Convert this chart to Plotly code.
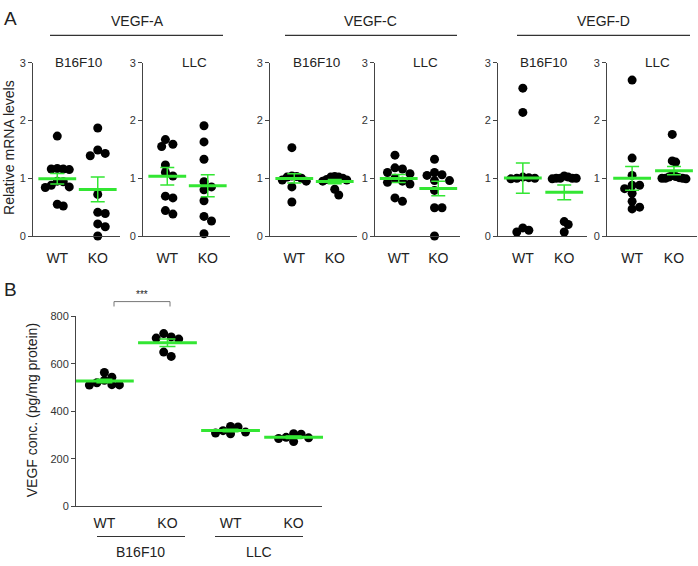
import numpy as np
import plotly.graph_objects as go

W, H = 698, 566
GREEN = '#33e633'
AXC = '#444444'
FONT = 'Arial, Liberation Sans, sans-serif'

# ---- panel A: relative mRNA levels (WT / KO) ----
genes = ['VEGF-A', 'VEGF-C', 'VEGF-D']
cells = ['B16F10', 'LLC']
groups = ['WT', 'KO']

vegfa_b16_wt = [1.73, 1.16, 1.16, 1.15, 1.17, 0.95, 0.94, 0.85, 0.84, 0.88, 0.55, 0.52]
vegfa_b16_ko = [1.87, 1.49, 1.43, 1.39, 0.72, 0.39, 0.41, 0.21, 0.16, 0.0]
vegfa_llc_wt = [1.59, 1.55, 1.67, 1.23, 1.10, 1.04, 0.69, 0.66, 0.38, 0.44]
vegfa_llc_ko = [1.91, 1.63, 1.33, 0.85, 0.94, 0.80, 0.61, 0.34, 0.26, 0.04]
vegfc_b16_wt = [1.53, 1.04, 1.02, 1.03, 0.97, 0.95, 0.85, 0.59, 1.0]
vegfc_b16_ko = [1.02, 1.03, 1.02, 1.0, 0.98, 0.97, 0.95, 0.81, 0.71]
vegfc_llc_wt = [1.40, 1.16, 1.18, 1.08, 1.10, 1.0, 0.95, 0.93, 0.90, 0.60, 0.66]
vegfc_llc_ko = [1.33, 1.06, 1.05, 1.10, 0.96, 0.96, 0.79, 0.49, 0.49, 0.0]
vegfd_b16_wt = [2.56, 2.14, 1.02, 1.0, 1.0, 0.99, 1.01, 0.14, 0.07, 0.10]
vegfd_b16_ko = [1.04, 1.02, 1.0, 1.0, 1.0, 0.99, 1.0, 0.25, 0.20, 0.07]
vegfd_llc_wt = [2.70, 1.35, 1.05, 0.88, 0.88, 0.82, 0.74, 0.60, 0.47, 0.50]
vegfd_llc_ko = [1.76, 1.30, 1.28, 1.05, 1.02, 1.0, 1.0, 0.99, 1.0, 1.01, 1.03]

panel_a = [
    (vegfa_b16_wt, vegfa_b16_ko), (vegfa_llc_wt, vegfa_llc_ko),
    (vegfc_b16_wt, vegfc_b16_ko), (vegfc_llc_wt, vegfc_llc_ko),
    (vegfd_b16_wt, vegfd_b16_ko), (vegfd_llc_wt, vegfd_llc_ko),
]
a_ticks = [0, 1, 2, 3]

# ---- panel B: VEGF protein (pg/mg protein) ----
b_labels = ['WT', 'KO', 'WT', 'KO']
b16_wt = [543, 563, 511, 510, 512, 520, 530]
b16_ko = [727, 708, 704, 713, 631, 649]
llc_wt = [336, 334, 308, 305, 318, 312]
llc_ko = [303, 305, 290, 288, 272, 285]
panel_b = [b16_wt, b16_ko, llc_wt, llc_ko]
b_ticks = [0, 200, 400, 600, 800]


def px(x):
    return x / W


def py(y):
    return 1 - y / H


def swarm(vals, ppx, ppy, d=7.5, maxw=12):
    # simple beeswarm: push points sideways until they no longer overlap
    vals = np.asarray(vals, dtype=float)
    order = np.argsort(vals)[::-1]
    placed = []
    offs = np.zeros(len(vals))
    for i in order:
        ypx = vals[i] * ppy
        for k in range(60):
            cand = 0 if k == 0 else ((k + 1) // 2) * d / 2 * (1 if k % 2 else -1)
            if all((cand - a) ** 2 + (ypx - b) ** 2 >= d * d for a, b in placed):
                break
        placed.append((cand, ypx))
        offs[i] = cand
    offs = offs - (offs.max() + offs.min()) / 2
    span = np.abs(offs).max()
    if span > maxw:
        offs = offs * maxw / span
    return offs / ppx


fig = go.Figure()

# subplot boxes in pixels
a_boxes = [(33, 120), (143, 230), (270, 357), (375, 460), (498, 587), (607, 697)]
a_top, a_bot = 58, 235
a_xr = [-0.6, 1.55]
a_yr = [0, 3]
b_box = (76, 322, 317, 511)
b_xr = [-0.45, 3.45]
b_yr = [0, 800]


def add_group(xref, yref, xpos, vals, ppx, ppy, mean_w, cap, maxw):
    vals = np.asarray(vals, dtype=float)
    offs = swarm(vals, ppx, ppy, maxw=maxw)
    fig.add_trace(go.Scatter(
        x=xpos + offs, y=vals, mode='markers', xaxis=xref, yaxis=yref,
        marker=dict(size=9, color='black'), cliponaxis=False, showlegend=False,
        hoverinfo='y'))
    m = vals.mean()
    sem = vals.std(ddof=1) / np.sqrt(len(vals))
    fig.add_trace(go.Scatter(
        x=[xpos], y=[m], mode='markers', xaxis=xref, yaxis=yref,
        marker=dict(symbol='line-ew', size=mean_w, line=dict(width=3, color=GREEN)),
        error_y=dict(type='data', array=[sem], color=GREEN, thickness=1.5, width=cap),
        cliponaxis=False, showlegend=False))


layout = {}
for k, ((l, r), pair) in enumerate(zip(a_boxes, panel_a)):
    n = k + 1
    xa, ya = f'x{n}', f'y{n}'
    ppx = (r - l) / (a_xr[1] - a_xr[0])
    ppy = (a_bot - a_top) / (a_yr[1] - a_yr[0])
    for g, vals in enumerate(pair):
        add_group(xa, ya, g, vals, ppx, ppy, 27, 7, 12)
    layout[f'xaxis{n}'] = dict(
        domain=[px(l), px(r)], anchor=ya, range=a_xr, tickvals=[0, 1], ticktext=groups,
        showline=True, linecolor=AXC, linewidth=1, ticks='', showgrid=False, zeroline=False,
        tickfont=dict(size=14, color='#222'), ticklabelstandoff=9)
    layout[f'yaxis{n}'] = dict(
        domain=[py(a_bot), py(a_top)], anchor=xa, range=a_yr, tickvals=a_ticks,
        showline=True, linecolor=AXC, linewidth=1, ticks='outside', ticklen=4,
        tickcolor=AXC, showgrid=False, zeroline=False,
        tickfont=dict(size=11, color='#333'))

# panel B
l, r, t, b = b_box
ppx = (r - l) / (b_xr[1] - b_xr[0])
ppy = (b - t) / (b_yr[1] - b_yr[0])
for g, vals in enumerate(panel_b):
    add_group('x7', 'y7', g, vals, ppx, ppy, 42, 8, 15)
layout['xaxis7'] = dict(
    domain=[px(l), px(r)], anchor='y7', range=b_xr, tickvals=[0, 1, 2, 3], ticktext=b_labels,
    showline=True, linecolor=AXC, linewidth=1, ticks='', showgrid=False, zeroline=False,
    tickfont=dict(size=14, color='#222'), ticklabelstandoff=4)
layout['yaxis7'] = dict(
    domain=[py(b), py(t)], anchor='x7', range=b_yr, tickvals=b_ticks,
    showline=True, linecolor=AXC, linewidth=1, ticks='outside', ticklen=4,
    tickcolor=AXC, showgrid=False, zeroline=False,
    tickfont=dict(size=11, color='#333'))

ann = []
shapes = []


def text(x, y, s, size=14, angle=0, xanchor='center'):
    ann.append(dict(x=px(x), y=py(y), xref='paper', yref='paper', text=s, showarrow=False,
                    font=dict(size=size, color='#222', family=FONT), textangle=angle,
                    xanchor=xanchor, yanchor='middle'))


def hline(x0, x1, y, color='#333', w=1.2):
    shapes.append(dict(type='line', xref='paper', yref='paper', x0=px(x0), x1=px(x1),
                       y0=py(y), y1=py(y), line=dict(color=color, width=w)))


# panel A headers
text(2, 13, 'A', size=19, xanchor='left')
for gname, cx, (x0, x1) in zip(genes, [137, 370, 603], [(50, 223), (285, 457), (517, 690)]):
    text(cx, 15, gname)
    hline(x0, x1, 30)
for cname, cx in zip(cells * 3, [78, 194, 316, 425, 543, 657]):
    text(cx, 58, cname, size=13.5)
text(9, 145, 'Relative mRNA levels', angle=-90)

# panel B labels
text(2, 290, 'B', size=19, xanchor='left')
text(32, 413, 'VEGF conc. (pg/mg protein)', angle=-90)
for cname, cx, (x0, x1) in zip(cells, [140, 259], [(97, 185), (215, 303)]):
    hline(x0, x1, 542)
    text(cx, 558, cname)
shapes.append(dict(type='path', xref='paper', yref='paper',
                   path=f'M {px(114)} {py(307)} L {px(114)} {py(302)} L {px(170)} {py(302)} L {px(170)} {py(307)}',
                   line=dict(color='#777', width=1)))
text(142, 295, '***', size=10)

fig.update_layout(
    width=W, height=H, margin=dict(l=0, r=0, t=0, b=0),
    paper_bgcolor='white', plot_bgcolor='white',
    font=dict(family=FONT, color='#222'),
    annotations=ann, shapes=shapes, showlegend=False, **layout)

# page has a default 8px body margin; drop it so the figure fills the window
fig.write_html('out.html', post_script="document.body.style.margin='0';",
               config={'displayModeBar': False})
